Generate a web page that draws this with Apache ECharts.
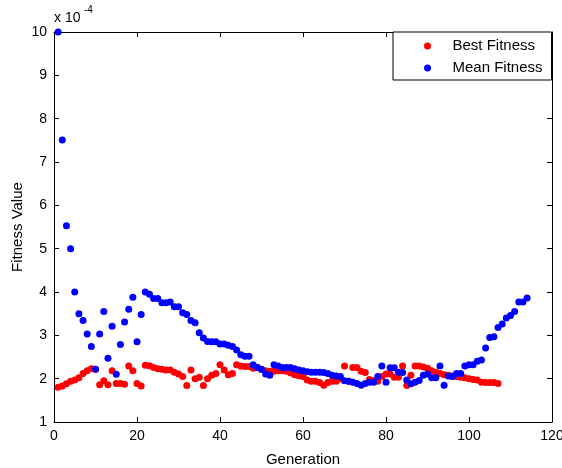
<!DOCTYPE html>
<html>
<head>
<meta charset="utf-8">
<title>Fitness</title>
<script src="https://cdn.jsdelivr.net/npm/echarts@6/dist/echarts.min.js"></script>
<style>
    html, body { margin: 0; padding: 0; background: #fff; }
    #chart { width: 562px; height: 468px; }
</style>
</head>
<body>
<div id="chart"></div>
<script>
// values are in units of 1e-4, one per generation starting at 1
const bestFitness = [
    1.80, 1.83, 1.88, 1.94, 1.97, 2.02, 2.12, 2.18, 2.23, 2.22,
    1.86, 1.95, 1.86, 2.18, 1.89, 1.89, 1.87, 2.29, 2.18, 1.89,
    1.83, 2.31, 2.30, 2.26, 2.23, 2.22, 2.20, 2.20, 2.15, 2.11,
    2.05, 1.84, 2.20, 2.00, 2.03, 1.84, 2.00, 2.08, 2.12, 2.32,
    2.20, 2.09, 2.12, 2.32, 2.29, 2.28, 2.28, 2.24, 2.26, 2.21,
    2.18, 2.17, 2.17, 2.18, 2.18, 2.17, 2.13, 2.09, 2.07, 2.05,
    1.97, 1.94, 1.94, 1.91, 1.85, 1.91, 1.94, 1.94, 2.00, 2.29,
    1.94, 2.26, 2.26, 2.17, 2.14, 1.98, 1.96, 1.94, 2.05, 2.11,
    2.11, 2.03, 2.03, 2.29, 1.84, 2.08, 2.29, 2.29, 2.27, 2.24,
    2.18, 2.15, 2.12, 2.09, 2.08, 2.06, 2.05, 2.03, 2.02, 2.00,
    1.98, 1.97, 1.92, 1.91, 1.91, 1.91, 1.89
];

const meanFitness = [
    10.0, 7.51, 5.53, 5.00, 4.00, 3.50, 3.34, 3.03, 2.74, 2.22,
    3.03, 3.55, 2.47, 3.21, 2.10, 2.79, 3.31, 3.60, 3.88, 2.85,
    3.48, 4.00, 3.95, 3.85, 3.85, 3.75, 3.75, 3.77, 3.66, 3.66,
    3.52, 3.48, 3.34, 3.29, 3.06, 2.94, 2.86, 2.85, 2.85, 2.80,
    2.80, 2.77, 2.74, 2.66, 2.55, 2.52, 2.52, 2.32, 2.26, 2.22,
    2.11, 2.08, 2.32, 2.29, 2.26, 2.26, 2.26, 2.23, 2.20, 2.18,
    2.16, 2.15, 2.15, 2.15, 2.14, 2.12, 2.08, 2.06, 2.05, 1.95,
    1.94, 1.92, 1.89, 1.85, 1.89, 1.92, 1.92, 2.05, 2.29, 1.92,
    2.25, 2.25, 2.15, 2.14, 1.97, 1.88, 1.92, 1.96, 2.08, 2.11,
    2.02, 2.02, 2.29, 1.85, 2.06, 2.05, 2.12, 2.12, 2.29, 2.32,
    2.32, 2.40, 2.43, 2.71, 2.95, 2.97, 3.18, 3.26, 3.40, 3.46,
    3.55, 3.77, 3.77, 3.86
];

const seriesNames = ['Best Fitness', 'Mean Fitness'];
const xTicks = [0, 120, 20];   // min, max, interval
const yTicks = [1, 10, 1];

const FONT = '"Liberation Sans", Arial, sans-serif';

document.addEventListener('DOMContentLoaded', function() {
    if (typeof echarts === 'undefined') {
        console.error('ECharts not loaded');
        return;
    }
    renderChart();
});

function toPoints(values) {
    // generation number is the 1-based index
    return values.map(function(v, i) { return [i + 1, v]; });
}

function boxAxis(base) {
    // shared look for the four sides of the matlab-like box
    return Object.assign({
        axisLine: { show: true, onZero: false, lineStyle: { color: '#000', width: 1 } },
        axisTick: { show: true, inside: true, length: 5, lineStyle: { color: '#000' } },
        splitLine: { show: false }
    }, base);
}

function renderChart() {
    const chart = echarts.init(document.getElementById('chart'), null, { renderer: 'canvas' });

    const labelStyle = { color: '#000', fontSize: 14, fontFamily: FONT };
    const nameStyle = { color: '#000', fontSize: 15, fontFamily: FONT };

    const option = {
        backgroundColor: '#fff',
        animation: false,
        grid: {
            left: 54, right: 10, top: 32, bottom: 46,
            containLabel: false,
            outerBoundsMode: 'none'   // keep the plot box fixed
        },
        xAxis: [
            boxAxis({
                type: 'value', position: 'bottom',
                min: xTicks[0], max: xTicks[1], interval: xTicks[2],
                name: 'Generation', nameLocation: 'middle', nameGap: 30,
                nameTextStyle: nameStyle,
                axisLabel: Object.assign({ margin: 7 }, labelStyle)
            }),
            boxAxis({
                type: 'value', position: 'top',
                min: xTicks[0], max: xTicks[1], interval: xTicks[2],
                axisLabel: { show: false }
            })
        ],
        yAxis: [
            boxAxis({
                type: 'value', position: 'left',
                min: yTicks[0], max: yTicks[1], interval: yTicks[2],
                name: 'Fitness Value', nameLocation: 'middle', nameGap: 29,
                nameMoveOverlap: false,
                nameTextStyle: nameStyle,
                axisLabel: Object.assign({ margin: 7 }, labelStyle)
            }),
            boxAxis({
                type: 'value', position: 'right',
                min: yTicks[0], max: yTicks[1], interval: yTicks[2],
                axisLabel: { show: false }
            })
        ],
        legend: {
            data: seriesNames,
            orient: 'vertical',
            left: 393,
            top: 32,
            padding: [6, 9, 4, 31],
            itemWidth: 24,
            itemHeight: 7,
            itemGap: 6,
            icon: 'circle',
            backgroundColor: '#fff',
            borderColor: '#000',
            borderWidth: 1,
            borderRadius: 0,
            textStyle: {
                color: '#000', fontSize: 15, fontFamily: FONT,
                lineHeight: 16, padding: [0, 0, 0, 8]
            }
        },
        graphic: [
            {
                type: 'text', left: 54, top: 11,
                style: { text: 'x 10', fontSize: 14, fontFamily: FONT, fill: '#000' }
            },
            {
                type: 'text', left: 84, top: 5,
                style: { text: '-4', fontSize: 10, fontFamily: FONT, fill: '#000' }
            }
        ],
        series: [
            {
                name: seriesNames[0],
                type: 'scatter',
                data: toPoints(bestFitness),
                symbolSize: 7,
                itemStyle: { color: '#ff0000', opacity: 1 }
            },
            {
                name: seriesNames[1],
                type: 'scatter',
                data: toPoints(meanFitness),
                symbolSize: 7,
                itemStyle: { color: '#0000ff', opacity: 1 }
            }
        ]
    };

    chart.setOption(option);
}
</script>
</body>
</html>
